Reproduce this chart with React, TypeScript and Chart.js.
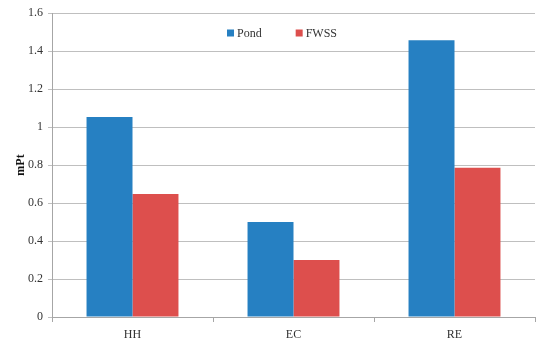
import React, { useEffect, useRef } from 'react';
import { Chart, registerables } from 'chart.js';

Chart.register(...registerables);

const categories = ['HH', 'EC', 'RE'];
const seriesNames = ['Pond', 'FWSS'];
const pondValues = [1.053, 0.5, 1.457];
const fwssValues = [0.647, 0.3, 0.786];
const yMin = 0;
const yMax = 1.6;
const yStep = 0.2;
const yTitle = 'mPt';

const colors = ['#2680C2', '#DD4F4D'];
const fontFamily = '"Liberation Serif", "DejaVu Serif", serif';

const legendPlugin = {
  id: 'insideLegend',
  afterDraw(chart: any) {
    const ctx = chart.ctx;
    const opts = chart.options.plugins.insideLegend;
    ctx.save();
    ctx.font = `12px ${fontFamily}`;
    ctx.textBaseline = 'middle';
    ctx.textAlign = 'left';
    let x = opts.x;
    const y = opts.y;
    chart.data.datasets.forEach((ds: any) => {
      ctx.fillStyle = ds.backgroundColor;
      ctx.fillRect(x, y - 3.5, 7, 7);
      ctx.fillStyle = '#333';
      ctx.fillText(ds.label, x + 10, y + 0.5);
      x += 10 + ctx.measureText(ds.label).width + opts.gap;
    });
    ctx.restore();
  },
};

export default function App() {
  const ref = useRef<HTMLCanvasElement | null>(null);
  useEffect(() => {
    if (!ref.current) return;
    const chart = new Chart(ref.current, {
      type: 'bar',
      data: {
        labels: categories,
        datasets: [
          { label: seriesNames[0], data: pondValues, backgroundColor: colors[0] },
          { label: seriesNames[1], data: fwssValues, backgroundColor: colors[1] },
        ],
      },
      plugins: [legendPlugin],
      options: {
        animation: false,
        responsive: false,
        maintainAspectRatio: false,
        layout: { padding: { top: 13, right: 15, left: 0, bottom: 0 } },
        datasets: {
          bar: { categoryPercentage: 0.571, barPercentage: 1.0 },
        },
        plugins: {
          legend: { display: false },
          tooltip: { enabled: false },
          insideLegend: { x: 227, y: 33, gap: 34 },
        } as any,
        scales: {
          x: {
            offset: true,
            grid: {
              display: true,
              drawOnChartArea: false,
              drawTicks: true,
              tickLength: 5,
              color: '#A6A6A6',
              offset: true,
            },
            border: { display: true, color: '#A6A6A6' },
            ticks: {
              color: '#333',
              font: { family: fontFamily, size: 12 },
              padding: 6,
            },
            afterFit: (s: any) => {
              s.height = 28;
            },
          },
          y: {
            min: yMin,
            max: yMax,
            ticks: {
              stepSize: yStep,
              color: '#333',
              font: { family: fontFamily, size: 12 },
              padding: 5,
              callback: (v: any) => String(Number(Number(v).toFixed(1))),
            },
            grid: {
              color: '#BFBFBF',
              tickLength: 4,
              drawTicks: true,
            },
            border: { display: true, color: '#A6A6A6' },
            title: {
              display: true,
              text: yTitle,
              color: '#111',
              font: { family: fontFamily, size: 12, weight: 'bold' },
              padding: { top: 14, bottom: 0 },
            },
            afterFit: (s: any) => {
              s.width = 52;
            },
          },
        },
      },
    });
    return () => chart.destroy();
  }, []);
  return (
    <div style={{ position: 'absolute', left: 0, top: 0, width: 550, height: 345, background: '#fff' }}>
      <canvas ref={ref} width={550} height={345} style={{ width: 550, height: 345 }} />
    </div>
  );
}
